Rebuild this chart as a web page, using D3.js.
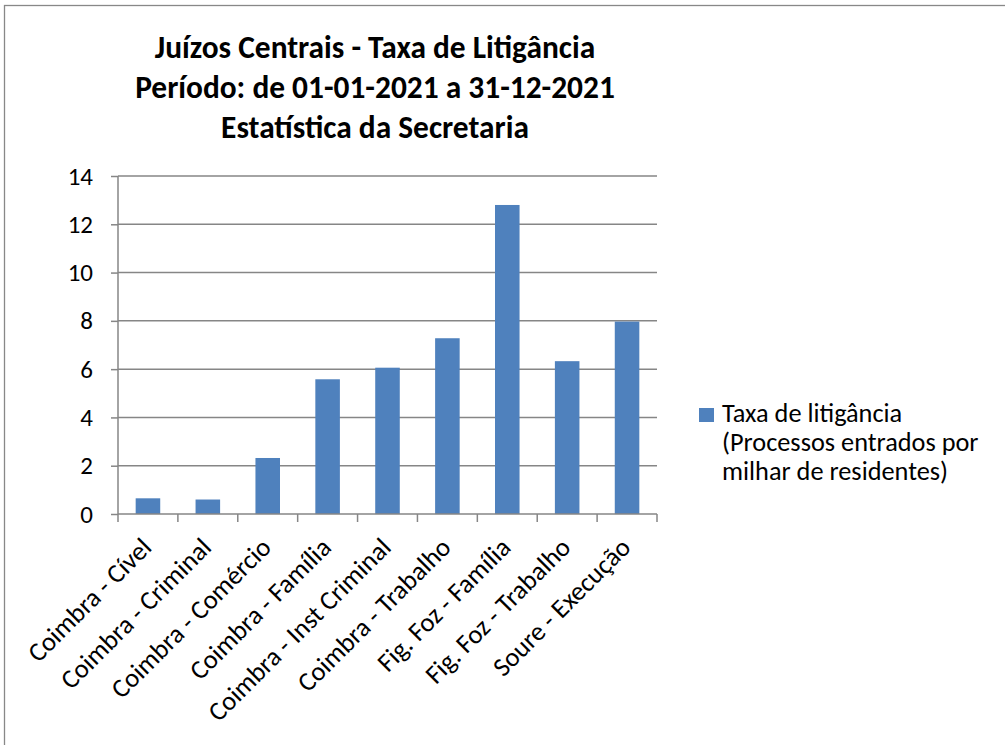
<!DOCTYPE html>
<html><head><meta charset="utf-8">
<script src="https://cdn.jsdelivr.net/npm/d3@7"></script>
<style>body{margin:0;background:#fff}svg{display:block;font-family:Carlito,Calibri,Lato,sans-serif}</style>
</head><body><svg id="c" width="1005" height="745"></svg>
<script>
const titleLines = ["Juízos Centrais - Taxa de Litigância","Período: de 01-01-2021 a 31-12-2021","Estatística da Secretaria"];
const categories = ["Coimbra - Cível","Coimbra - Criminal","Coimbra - Comércio","Coimbra - Família","Coimbra - Inst Criminal","Coimbra - Trabalho","Fig. Foz - Família","Fig. Foz - Trabalho","Soure - Execução"];
const values = [0.65,0.6,2.32,5.58,6.06,7.28,12.8,6.33,7.97];
const yTicks = [0,2,4,6,8,10,12,14];
const legendLines = ["Taxa de litigância","(Processos entrados por","milhar de residentes)"];

const FONT = "Carlito,Calibri,Lato,sans-serif";
const svg = d3.select("#c");
const gridColor = "#868686", barColor = "#4F81BD";
svg.append("rect").attr("x",4.5).attr("y",5.5).attr("width",1010).attr("height",760)
  .attr("fill","#fff").attr("stroke","#888").attr("stroke-width",1.3);

const L=118, R=657, T=176, B=514;
const x = d3.scaleBand().domain(categories).range([L,R]).paddingInner(0.59).paddingOuter(0.295);
const xb = d3.scaleBand().domain(categories).range([L,R]);
const y = d3.scaleLinear().domain([0,14]).range([B,T]);

// gridlines
svg.append("g").selectAll("line").data(yTicks.filter(d=>d>0)).join("line")
  .attr("x1",L).attr("x2",R).attr("y1",d=>y(d)).attr("y2",d=>y(d))
  .attr("stroke",gridColor).attr("stroke-width",1.5);

// bars
svg.append("g").selectAll("rect").data(values).join("rect")
  .attr("x",(d,i)=>x(categories[i])).attr("width",x.bandwidth())
  .attr("y",d=>y(d)).attr("height",d=>B-y(d)).attr("fill",barColor);

// y axis
const ya = svg.append("g").attr("transform",`translate(${L},0)`)
  .call(d3.axisLeft(y).tickValues(yTicks).tickSize(7).tickPadding(18).tickFormat(d3.format("d")));
ya.select(".domain").attr("stroke",gridColor).attr("stroke-width",1.5).attr("d",`M0,${T}V${B}`);
ya.selectAll(".tick line").attr("stroke",gridColor).attr("stroke-width",1.5);
ya.selectAll("text").attr("font-size",25).attr("fill","#000").attr("font-family",FONT);

// x axis
const xg = svg.append("g").attr("transform",`translate(0,${B})`);
xg.append("line").attr("x1",L).attr("x2",R).attr("stroke",gridColor).attr("stroke-width",1.5);
const bounds = categories.map(c=>xb(c)).concat([R]);
xg.selectAll("line.tk").data(bounds).join("line").attr("class","tk")
  .attr("x1",d=>d).attr("x2",d=>d).attr("y1",0).attr("y2",8)
  .attr("stroke",gridColor).attr("stroke-width",1.5);
xg.selectAll("text").data(categories).join("text")
  .attr("transform",d=>`translate(${xb(d)+xb.bandwidth()/2+5},${35}) rotate(-45)`)
  .attr("text-anchor","end").attr("font-size",26.5).attr("fill","#000").text(d=>d);

// title
svg.append("g").selectAll("text").data(titleLines).join("text")
  .attr("x",375).attr("y",(d,i)=>58+i*40).attr("text-anchor","middle")
  .attr("font-size",31.4).attr("font-weight","bold").attr("fill","#000").text(d=>d);

// legend
svg.append("rect").attr("x",699).attr("y",408).attr("width",15).attr("height",14).attr("fill",barColor);
svg.append("g").selectAll("text").data(legendLines).join("text")
  .attr("x",722).attr("y",(d,i)=>421.5+i*29).attr("font-size",26.3).attr("fill","#000").text(d=>d);
</script></body></html>
